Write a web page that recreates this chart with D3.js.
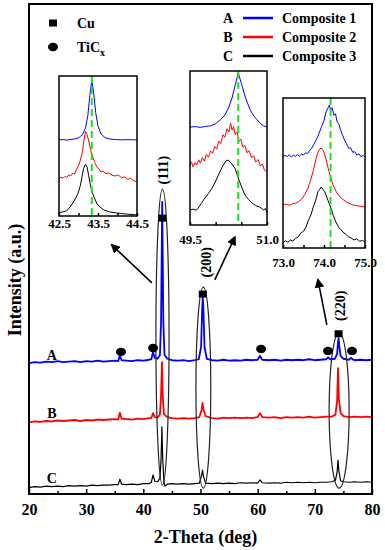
<!DOCTYPE html>
<html>
<head>
<meta charset="utf-8">
<script src="https://cdn.jsdelivr.net/npm/d3@7"></script>
<style>
    body { margin: 0; background: #fff; }
    svg text { font-family: "Liberation Serif", "Times New Roman", serif; font-weight: bold; fill: #000; }
</style>
</head>
<body>
<div id="chart"></div>
<script>
(function () {
    "use strict";

    // ---- data (2-theta in deg, intensity in a.u.) ----
    const seriesTags = ["A", "B", "C"];
    const seriesNames = ["Composite 1", "Composite 2", "Composite 3"];
    const xTicks = [20, 30, 40, 50, 60, 70, 80];

    const compositeA = [[20,26.7],[21,26.9],[22,26.8],[23,27.0],[24,26.9],[25,27.1],[26,26.9],[27,27.0],[28,27.1],[29,26.9],[30,27.1],[31,27.0],[32,27.2],[33,27.0],[34,27.1],[35,27.2],[35.6,27.1],[35.9,28.3],[36.2,27.3],[37,27.2],[38,27.1],[39,27.3],[40,27.2],[41,27.4],[41.4,27.5],[41.7,29.0],[42.0,27.8],[42.5,27.6],[42.9,28.3],[43.1,35],[43.3,59.6],[43.5,35],[43.7,28.4],[44.2,27.6],[45,27.3],[46,27.2],[47,27.3],[48,27.1],[49,27.3],[49.7,27.5],[50.1,30],[50.3,38],[50.4,40.2],[50.5,38],[50.7,30],[51.1,27.6],[52,27.3],[53,27.2],[54,27.4],[55,27.2],[56,27.3],[57,27.2],[58,27.4],[59,27.3],[60,27.4],[60.4,28.2],[60.8,27.4],[62,27.3],[63,27.4],[64,27.2],[65,27.4],[66,27.3],[67,27.4],[68,27.3],[69,27.5],[70,27.3],[71,27.4],[72,27.5],[72.3,27.9],[72.7,27.5],[73.5,27.6],[73.9,28.6],[74.05,31],[74.15,31.8],[74.3,30.0],[74.5,28.2],[75,27.6],[76,27.4],[76.3,27.8],[76.7,27.4],[77,27.3],[78,27.4],[79,27.3],[80,27.4]];
    const compositeB = [[20,14.6],[21,14.8],[22,14.7],[23,14.9],[24,14.8],[25,15.0],[26,14.9],[27,15.0],[28,15.1],[29,14.9],[30,15.1],[31,15.0],[32,15.2],[33,15.1],[34,15.2],[35,15.3],[35.6,15.2],[35.9,16.6],[36.2,15.4],[37,15.3],[38,15.2],[39,15.4],[40,15.3],[41,15.5],[41.4,15.5],[41.7,16.5],[42.0,15.7],[42.5,15.6],[42.9,16.2],[43.1,20],[43.25,26.9],[43.4,20],[43.6,16.3],[44.2,15.7],[45,15.5],[46,15.4],[47,15.5],[48,15.4],[49,15.5],[49.8,15.7],[50.2,17.2],[50.35,18.6],[50.5,17.3],[50.9,15.9],[52,15.5],[53,15.4],[54,15.6],[55,15.5],[56,15.6],[57,15.5],[58,15.6],[59,15.5],[60,15.7],[60.4,16.5],[60.8,15.7],[62,15.6],[63,15.7],[64,15.5],[65,15.7],[66,15.6],[67,15.7],[68,15.6],[69,15.8],[70,15.6],[71,15.7],[72,15.8],[73,15.8],[73.6,16.2],[73.9,19],[74.05,25.7],[74.2,19.5],[74.5,16.5],[75,15.9],[76,15.7],[77,15.8],[78,15.7],[79,15.8],[80,15.7]];
    const compositeC = [[20,1.3],[21,1.5],[22,1.4],[23,1.6],[24,1.5],[25,1.6],[26,1.5],[27,1.7],[28,1.6],[29,1.7],[30,1.6],[31,1.8],[32,1.7],[33,1.8],[34,1.8],[35,1.9],[35.6,1.9],[35.9,3.0],[36.2,2.0],[37,1.9],[38,2.0],[39,1.9],[40,2.1],[41,2.1],[41.4,2.4],[41.7,3.9],[42.0,2.6],[42.5,2.5],[42.9,3.2],[43.1,7],[43.25,13.7],[43.4,7],[43.6,2.5],[43.8,1.6],[44.2,2.0],[45,2.1],[46,2.0],[47,2.1],[48,2.0],[49,2.1],[49.8,2.2],[50.2,3.8],[50.35,4.9],[50.5,3.7],[50.9,2.2],[52,2.1],[53,2.2],[54,2.1],[55,2.2],[56,2.1],[57,2.3],[58,2.2],[59,2.3],[60,2.2],[60.4,2.9],[60.8,2.3],[62,2.2],[63,2.3],[64,2.2],[65,2.4],[66,2.3],[67,2.4],[68,2.3],[69,2.4],[70,2.3],[71,2.4],[72,2.4],[73,2.5],[73.6,2.8],[73.9,4.5],[74.05,6.9],[74.2,4.8],[74.5,2.7],[75,2.5],[76,2.4],[77,2.5],[78,2.4],[79,2.5],[80,2.4]];

    // phase markers and Cu reflections
    const cuMarkers = [[43.3, 56.3], [50.4, 40.8], [74.15, 32.7]];
    const ticxMarkers = [[36.1, 29.0], [41.7, 29.8], [60.6, 29.6], [72.3, 29.2], [76.5, 29.2]];
    const reflections = ["(111)", "(200)", "(220)"];
    const reflectionLabelAt = [[43.4, 66.1], [51.0, 47.3], [74.4, 38.4]];
    // ellipses: [2θ from, 2θ to, top, bottom]
    const peakEllipses = [[42.2, 44.5, 62.2, 1.8], [49.2, 51.8, 42.2, 1.2], [72.5, 76.0, 32.9, 1.2]];
    // arrows: [from 2θ, from I, to 2θ, to I]
    const zoomArrows = [[41.5, 43.1, 34.5, 50.8], [52.5, 43.7, 56.0, 52.4], [72.1, 34.5, 70.55, 43.7]];
    const seriesLabelAt = [[24.0, 28.4], [24.0, 16.5], [24.0, 3.3]];

    // insets (intensity normalised 0-100 in each box)
    const inset111A = [[42.5,54.3],[42.6,54.6],[42.7,54.2],[42.8,54.7],[42.9,55.0],[43.0,55.8],[43.1,58],[43.18,63],[43.24,72],[43.29,86],[43.34,97],[43.39,88],[43.44,74],[43.5,64],[43.58,58.5],[43.68,56],[43.8,55],[43.95,54.6],[44.1,54.4],[44.3,54.5],[44.5,54.3]];
    const inset111B = [[42.5,26.5],[42.55,27.8],[42.6,26.9],[42.65,28.3],[42.7,27.5],[42.75,29.4],[42.8,28.6],[42.85,30.5],[42.9,30.0],[42.95,33.5],[43.0,36],[43.05,40],[43.1,46],[43.14,54],[43.18,60.5],[43.21,59],[43.25,55],[43.29,50],[43.33,45],[43.37,42],[43.42,38],[43.47,35],[43.52,33.8],[43.57,31.5],[43.63,32.2],[43.7,30.2],[43.78,30.8],[43.86,29.1],[43.94,28.6],[44.02,29.3],[44.1,27.4],[44.18,27.9],[44.26,26.2],[44.34,26.9],[44.42,25.0],[44.5,24.6]];
    const inset111C = [[42.5,2.5],[42.6,2.9],[42.7,3.8],[42.78,6.4],[42.86,9.5],[42.93,13],[42.99,16.4],[43.05,22],[43.09,28],[43.13,34],[43.18,37],[43.22,35],[43.26,29],[43.3,23],[43.35,17],[43.4,13.4],[43.47,9],[43.55,6.4],[43.65,4.3],[43.8,2.9],[43.95,2.2],[44.1,1.8],[44.25,1.3],[44.4,1.0],[44.5,0.8]];
    const inset200A = [[49.5,63.6],[49.6,63.9],[49.7,63.4],[49.8,64.0],[49.9,64.4],[50.0,65.8],[50.1,68.5],[50.18,71.4],[50.25,76],[50.32,82.5],[50.38,91],[50.44,98.7],[50.5,92],[50.56,85],[50.61,80],[50.67,75],[50.73,71.4],[50.8,68.5],[50.86,66.2],[50.93,64.5],[51.0,63.6]];
    const inset200B = [[49.5,38.5],[49.53,41],[49.56,37.8],[49.6,40.5],[49.63,38.9],[49.67,42.3],[49.7,40.2],[49.74,43.8],[49.78,41.5],[49.82,45.9],[49.86,44],[49.9,48.2],[49.94,46.5],[49.98,51],[50.02,49.2],[50.06,54.5],[50.1,52.8],[50.14,58.6],[50.18,57],[50.22,62.5],[50.26,60.3],[50.29,66.2],[50.32,61.5],[50.35,63.8],[50.38,58.7],[50.42,60.5],[50.45,54.3],[50.49,55.8],[50.53,50.5],[50.57,51.7],[50.61,46.9],[50.65,48.3],[50.7,43.6],[50.74,45],[50.78,40.8],[50.83,42.5],[50.87,38.2],[50.91,39.7],[50.95,35.6],[51.0,34.8]];
    const inset200C = [[49.5,9.7],[49.56,10.3],[49.62,9.5],[49.66,11],[49.72,14],[49.79,17.5],[49.86,20.5],[49.93,24],[50.0,28.5],[50.08,34.4],[50.14,38.5],[50.2,41.5],[50.24,42.2],[50.28,41],[50.33,39],[50.38,36.5],[50.43,31.5],[50.47,27.9],[50.52,23.5],[50.57,19.5],[50.64,16.5],[50.71,14.3],[50.78,12.6],[50.86,11.7],[50.93,9.8],[50.97,10.6],[51.0,8.4]];
    const inset220A = [[73.0,60.5],[73.05,61.8],[73.1,60.9],[73.15,62.2],[73.2,60.7],[73.25,61.9],[73.3,61.1],[73.35,62.4],[73.4,61.3],[73.45,62.6],[73.5,61.9],[73.55,63.5],[73.6,63.0],[73.65,65],[73.7,66.5],[73.75,69],[73.8,71.5],[73.85,74.5],[73.9,78],[73.95,81.5],[74.0,85],[74.05,90.7],[74.1,93.5],[74.13,95.3],[74.16,92],[74.2,93.5],[74.24,88.5],[74.28,89.5],[74.32,84],[74.36,83],[74.4,79],[74.45,75.5],[74.5,72],[74.55,69.5],[74.6,66.5],[74.65,66.8],[74.7,63.8],[74.75,64.2],[74.8,62],[74.85,62.8],[74.9,60.9],[74.95,61.7],[75.0,60.7]];
    const inset220B = [[73.0,28.7],[73.08,29.2],[73.16,28.5],[73.24,29.5],[73.3,29.8],[73.37,30.7],[73.45,32.5],[73.53,35.5],[73.61,40],[73.67,45],[73.73,50.7],[73.78,56.5],[73.83,62],[73.88,65.5],[73.93,66.7],[73.98,65],[74.02,62],[74.06,58],[74.1,53.3],[74.16,47.5],[74.22,42],[74.3,37.5],[74.39,34],[74.48,32],[74.59,30],[74.7,28.8],[74.8,28.2],[74.9,27.8],[75.0,27.3]];
    const inset220C = [[73.0,3.5],[73.06,4.8],[73.12,3.9],[73.18,5.2],[73.24,4.6],[73.3,6.3],[73.37,7.3],[73.43,9.8],[73.5,11.2],[73.56,14],[73.62,18.5],[73.68,22],[73.74,27.5],[73.8,32],[73.85,37.5],[73.89,38.8],[73.93,40.7],[73.97,39.2],[74.01,37.8],[74.05,35.3],[74.1,31.5],[74.17,26.7],[74.23,21.5],[74.29,17.3],[74.36,13.8],[74.46,10.7],[74.53,9.2],[74.6,7.4],[74.66,6.7],[74.73,5.4],[74.8,6.1],[74.87,4.5],[74.94,5.0],[75.0,4.0]];

    const insetDomains = [[42.5, 44.5], [49.5, 51.0], [73.0, 75.0]];
    const insetTicks = [[42.5, 43, 43.5, 44, 44.5], [49.5, 50, 50.5, 51], [73, 73.5, 74, 74.5, 75]];
    const insetTickLabels = [[42.5, 43.5, 44.5], [49.5, 51.0], [73.0, 74.0, 75.0]];
    const cuRefLines = [43.34, 50.44, 74.16];

    // ---- layout / styles ----
    const COLORS = ["#0000ff", "#ff0000", "#000000"];
    const TRACE_WIDTHS = [1.8, 1.8, 1.2];
    const GREEN = "#22dd22";
    const plot = { left: 29, top: 4, right: 372, bottom: 494 };
    const insetBoxes = [
        { x0: 59, y0: 76, x1: 137, y1: 216, pad: 3 },
        { x0: 190, y0: 71, x1: 267, y1: 225, pad: 10 },
        { x0: 283, y0: 98, x1: 365, y1: 248, pad: 10 }
    ];

    let svg = d3.select("#chart").append("svg")
        .attr("width", 385).attr("height", 550);

    let x = d3.scaleLinear().domain([20, 80]).range([plot.left, plot.right]);
    let y = d3.scaleLinear().domain([0, 100]).range([plot.bottom, plot.top]);

    svg.append("defs").append("clipPath").attr("id", "plotClip")
        .append("rect")
        .attr("x", plot.left).attr("y", plot.top)
        .attr("width", plot.right - plot.left).attr("height", plot.bottom - plot.top);

    svg.select("defs").append("marker")
        .attr("id", "arrowHead")
        .attr("viewBox", "0 0 10 10")
        .attr("refX", 8).attr("refY", 5)
        .attr("markerWidth", 6).attr("markerHeight", 6)
        .attr("orient", "auto")
        .append("path").attr("d", "M0,0 L10,5 L0,10 Z").attr("fill", "#000");

    // main traces
    let line = d3.line().x(d => x(d[0])).y(d => y(d[1]));
    let traces = svg.append("g").attr("clip-path", "url(#plotClip)");
    [compositeA, compositeB, compositeC].forEach((s, i) => {
        traces.append("path")
            .attr("d", line(s))
            .attr("fill", "none")
            .attr("stroke", COLORS[i])
            .attr("stroke-width", TRACE_WIDTHS[i])
            .attr("stroke-linejoin", "round");
    });

    // ellipses around the Cu reflections
    svg.append("g").selectAll("ellipse")
        .data(peakEllipses)
        .enter().append("ellipse")
        .attr("cx", d => (x(d[0]) + x(d[1])) / 2)
        .attr("cy", d => (y(d[2]) + y(d[3])) / 2)
        .attr("rx", d => (x(d[1]) - x(d[0])) / 2)
        .attr("ry", d => (y(d[3]) - y(d[2])) / 2)
        .attr("fill", "none")
        .attr("stroke", "#222")
        .attr("stroke-width", 1.2);

    // markers
    svg.append("g").selectAll("rect")
        .data(cuMarkers)
        .enter().append("rect")
        .attr("x", d => x(d[0]) - 4).attr("y", d => y(d[1]) - 3.5)
        .attr("width", 8).attr("height", 7)
        .attr("fill", "#000");

    svg.append("g").selectAll("ellipse")
        .data(ticxMarkers)
        .enter().append("ellipse")
        .attr("cx", d => x(d[0])).attr("cy", d => y(d[1]))
        .attr("rx", 5).attr("ry", 4.2)
        .attr("fill", "#000");

    // reflection labels
    svg.append("g").selectAll("text")
        .data(reflections)
        .enter().append("text")
        .attr("transform", (d, i) => `translate(${x(reflectionLabelAt[i][0]) + 5},${y(reflectionLabelAt[i][1])}) rotate(-90)`)
        .attr("text-anchor", "middle")
        .style("font-size", "14px")
        .text(d => d);

    // arrows
    svg.append("g").selectAll("line")
        .data(zoomArrows)
        .enter().append("line")
        .attr("x1", d => x(d[0])).attr("y1", d => y(d[1]))
        .attr("x2", d => x(d[2])).attr("y2", d => y(d[3]))
        .attr("stroke", "#000")
        .attr("stroke-width", 1.6)
        .attr("marker-end", "url(#arrowHead)");

    // A B C labels
    svg.append("g").selectAll("text")
        .data(seriesTags)
        .enter().append("text")
        .attr("x", (d, i) => x(seriesLabelAt[i][0]))
        .attr("y", (d, i) => y(seriesLabelAt[i][1]) + 5)
        .attr("text-anchor", "middle")
        .style("font-size", "14px")
        .text(d => d);

    // insets
    let insetSeries = [
        [inset111A, inset111B, inset111C],
        [inset200A, inset200B, inset200C],
        [inset220A, inset220B, inset220C]
    ];

    insetBoxes.forEach((b, k) => {
        let ix = d3.scaleLinear().domain(insetDomains[k]).range([b.x0, b.x1]);
        let iy = d3.scaleLinear().domain([0, 100]).range([b.y1, b.y0]);
        let g = svg.append("g");

        g.append("rect")
            .attr("x", b.x0).attr("y", b.y0)
            .attr("width", b.x1 - b.x0).attr("height", b.y1 - b.y0)
            .attr("fill", "#fff");

        let iline = d3.line().x(d => ix(d[0])).y(d => iy(d[1]));
        insetSeries[k].forEach((s, i) => {
            g.append("path")
                .attr("d", iline(s))
                .attr("fill", "none")
                .attr("stroke", COLORS[i])
                .attr("stroke-width", 1);
        });

        g.append("line")
            .attr("x1", ix(cuRefLines[k])).attr("x2", ix(cuRefLines[k]))
            .attr("y1", b.y0).attr("y2", b.y1)
            .attr("stroke", GREEN)
            .attr("stroke-width", 2)
            .attr("stroke-dasharray", "7,4");

        // tick marks (inward)
        g.append("g")
            .attr("transform", `translate(0,${b.y1})`)
            .call(d3.axisBottom(ix).tickValues(insetTicks[k]).tickSize(-3).tickFormat(""))
            .call(a => a.select(".domain").remove())
            .call(a => a.selectAll("line").attr("stroke-width", 1.5));

        g.append("g")
            .attr("transform", `translate(0,${b.y1})`)
            .call(d3.axisBottom(ix).tickValues(insetTickLabels[k]).tickSize(0)
                .tickPadding(b.pad).tickFormat(d3.format(".1f")))
            .call(a => a.select(".domain").remove())
            .call(a => a.selectAll("text").style("font-size", "13px")
                .attr("font-family", null));

        g.append("rect")
            .attr("x", b.x0).attr("y", b.y0)
            .attr("width", b.x1 - b.x0).attr("height", b.y1 - b.y0)
            .attr("fill", "none")
            .attr("stroke", "#000")
            .attr("stroke-width", 1.5);
    });

    // main x axis, ticks inward
    svg.append("g")
        .attr("transform", `translate(0,${plot.bottom})`)
        .call(d3.axisBottom(x).tickValues(d3.range(25, 80, 10)).tickSize(-3).tickFormat(""))
        .call(a => a.select(".domain").remove())
        .call(a => a.selectAll("line").attr("stroke-width", 1.5));

    svg.append("g")
        .attr("transform", `translate(0,${plot.bottom})`)
        .call(d3.axisBottom(x).tickValues(xTicks).tickSize(-5).tickPadding(10))
        .call(a => a.select(".domain").remove())
        .call(a => a.selectAll("line").attr("stroke-width", 1.5))
        .call(a => a.selectAll("text").style("font-size", "16px").attr("font-family", null));

    // frame
    svg.append("rect")
        .attr("x", plot.left).attr("y", plot.top)
        .attr("width", plot.right - plot.left).attr("height", plot.bottom - plot.top)
        .attr("fill", "none")
        .attr("stroke", "#000")
        .attr("stroke-width", 2);

    // axis titles
    svg.append("text")
        .attr("x", (plot.left + plot.right) / 2 + 5).attr("y", 543)
        .attr("text-anchor", "middle")
        .style("font-size", "18px")
        .text("2-Theta (deg)");

    svg.append("text")
        .attr("transform", "translate(21,280) rotate(-90)")
        .attr("text-anchor", "middle")
        .style("font-size", "18px")
        .text("Intensity (a.u.)");

    // phase legend
    let phase = svg.append("g");
    phase.append("rect").attr("x", 49).attr("y", 19.5).attr("width", 8).attr("height", 7).attr("fill", "#000");
    phase.append("ellipse").attr("cx", 53).attr("cy", 47).attr("rx", 5).attr("ry", 4.2).attr("fill", "#000");
    phase.append("text").attr("x", 77).attr("y", 28).style("font-size", "14px").text("Cu");
    let tic = phase.append("text").attr("x", 77).attr("y", 52).style("font-size", "14px");
    tic.append("tspan").text("TiC");
    tic.append("tspan").attr("dy", 4).style("font-size", "10px").text("x");

    // series legend
    let legend = svg.append("g");
    seriesTags.forEach((t, i) => {
        let ly = 18 + i * 19;
        legend.append("text").attr("x", 228).attr("y", ly + 5)
            .attr("text-anchor", "middle").style("font-size", "14px").text(t);
        legend.append("line").attr("x1", 243).attr("x2", 273).attr("y1", ly).attr("y2", ly)
            .attr("stroke", COLORS[i]).attr("stroke-width", 2.5);
        legend.append("text").attr("x", 282).attr("y", ly + 5)
            .style("font-size", "14px").text(seriesNames[i]);
    });
})();
</script>
</body>
</html>
